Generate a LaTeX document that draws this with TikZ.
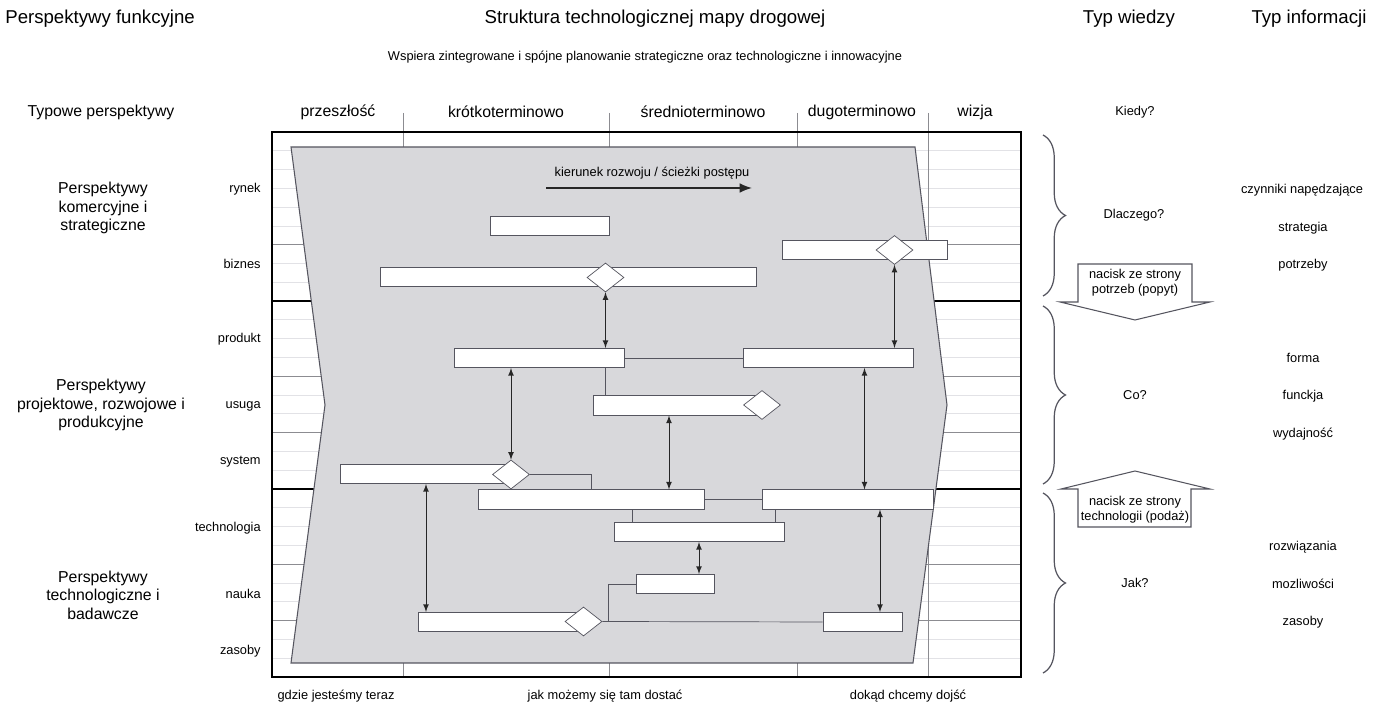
\documentclass[tikz,border=0pt]{standalone}
\usepackage{fontspec}
\setmainfont{Liberation Sans}
\usetikzlibrary{shapes.geometric,decorations.pathreplacing,calc,arrows.meta}

\definecolor{gridc}{RGB}{226,226,230}
\definecolor{sepc}{RGB}{140,140,145}
\definecolor{linec}{RGB}{85,85,95}
\definecolor{polyc}{RGB}{216,216,219}

\newcommand{\pxl}{0.02cm}

\tikzstyle{txt} = [text centered, inner sep=0pt]
\tikzstyle{small} = [txt, font=\fontsize{7.3}{8.6}\selectfont]
\tikzstyle{mid} = [txt, align=center, font=\fontsize{9}{10.6}\selectfont]
\tikzstyle{big} = [txt, font=\fontsize{10.6}{12}\selectfont]
\tikzstyle{bar} = [draw=linec, fill=white, inner sep=0pt, minimum height=0.39cm]
\tikzstyle{dia} = [diamond, draw=linec, fill=white, inner sep=0pt, minimum width=0.74cm, minimum height=0.58cm]

\begin{document}
\begin{tikzpicture}[x=0.02cm, y=-0.02cm,
>=latex,
dbl/.style={<->, draw=black!85, line width=0.5pt},
]
\useasboundingbox (0,0) rectangle (1384,715);

% Headings
\node[big, anchor=west] (hfun) at (5,19) {Perspektywy funkcyjne};
\node[big] (hmap) at (655,19) {Struktura technologicznej mapy drogowej};
\node[big] (hknow) at (1129,19) {Typ wiedzy};
\node[big] (hinfo) at (1309,19) {Typ informacji};
\node[small] (sub) at (645,57) {Wspiera zintegrowane i spójne planowanie strategiczne oraz technologiczne i innowacyjne};

\node[mid] (typ) at (101,112) {Typowe perspektywy};
\node[mid] (past) at (338,112) {przeszłość};
\node[mid] (short) at (506,112) {krótkoterminowo};
\node[mid] (medium) at (703,112) {średnioterminowo};
\node[mid] (long) at (862,112) {dugoterminowo};
\node[mid] (vision) at (975,112) {wizja};
\node[small] (when) at (1135,112) {Kiedy?};

% Grid
\foreach \r in {1,...,28} {%
 \draw[gridc, line width=0.5pt] (272,{132+\r*18.79}) -- (1021,{132+\r*18.79});
}
\foreach \r in {6,13,16,23,26} {%
 \draw[sepc, line width=0.5pt] (272,{132+\r*18.79}) -- (1021,{132+\r*18.79});
}
\foreach \x in {403,609,797,928} {%
 \draw[sepc, line width=0.5pt] (\x,113) -- (\x,677);
}
\foreach \r in {9,19} {%
 \draw[black, line width=1pt] (272,{132+\r*18.79}) -- (1021,{132+\r*18.79});
}
\draw[black, line width=1.1pt] (272,132) rectangle (1021,677);

% Roadmap area
\draw[draw=linec, fill=polyc, line width=0.6pt] (291,147) -- (915,147) -- (947,405) -- (913,663) -- (291,663) -- (325,405) -- cycle;

\node[small] (dir) at (652,173) {kierunek rozwoju / ścieżki postępu};
\coordinate (dirS) at (546,188);
\coordinate (dirE) at (752,188);
\draw[-{Latex[length=7pt,width=5.5pt]}, black!85, line width=0.9pt] (dirS) -- (dirE);

% Left labels
\node[mid] (comm) at (103,208) {Perspektywy\\komercyjne i\\strategiczne};
\node[mid] (proj) at (101,405) {Perspektywy\\projektowe, rozwojowe i\\produkcyjne};
\node[mid] (tech) at (103,595) {Perspektywy\\technologiczne i\\badawcze};

\node[small, anchor=east] (l1) at (261,189) {rynek};
\node[small, anchor=east] (l2) at (261,264) {biznes};
\node[small, anchor=east] (l3) at (261,339) {produkt};
\node[small, anchor=east] (l4) at (261,406) {usuga};
\node[small, anchor=east] (l5) at (261,462) {system};
\node[small, anchor=east] (l6) at (261,528) {technologia};
\node[small, anchor=east] (l7) at (261,594) {nauka};
\node[small, anchor=east] (l8) at (261,651) {zasoby};

% Bars
\node[bar, minimum width=119*\pxl] (B1) at (549.5,226) {};
\node[bar, minimum width=376*\pxl] (B2) at (568,277) {};
\node[bar, minimum width=165*\pxl] (B3) at (864.5,250) {};
\node[bar, minimum width=170*\pxl] (B4) at (539,358) {};
\node[bar, minimum width=170*\pxl] (B5) at (828,358) {};
\node[bar, minimum width=167*\pxl] (B6) at (676.5,405.5) {};
\node[bar, minimum width=172*\pxl] (B7) at (426,474) {};
\node[bar, minimum width=226*\pxl] (B8) at (591,499.5) {};
\node[bar, minimum width=171*\pxl] (B9) at (847.5,499.5) {};
\node[bar, minimum width=170*\pxl] (B10) at (699,532) {};
\node[bar, minimum width=78*\pxl] (B11) at (675,584) {};
\node[bar, minimum width=166*\pxl] (B12) at (501,622) {};
\node[bar, minimum width=79*\pxl] (B13) at (862.5,622) {};

% Diamonds
\node[dia] (D1) at (605.5,277.5) {};
\node[dia] (D2) at (894.5,250) {};
\node[dia] (D3) at (762,405) {};
\node[dia] (D4) at (511,474.5) {};
\node[dia] (D5) at (583.5,621.5) {};

% Links
\draw[dbl] (D1.south) -- (D1.south |- B4.north);
\draw[dbl] (D2.south) -- (D2.south |- B5.north);
\draw[linec] (B4.east) -- (B5.west);
\draw[linec] (B4.south -| D1) -- (B6.north -| D1);
\draw[dbl] (D4.north |- B4.south) -- (D4.north);
\draw[linec] (D4.east) -| (B8.north);
\draw[linec] (B8.east) -- (B9.west);
\draw[dbl] ($(B6.south)+(-7.5,0)$) -- ($(B8.north)+(78,0)$);
\draw[dbl] (B5.south -| B3) -- (B9.north -| B3);
\draw[dbl] (B7.south) -- (B7.south |- B12.north);
\draw[linec] ($(B10.north)+(-67,0)$) -- ($(B8.south)+(41,0)$);
\draw[linec] ($(B9.south)+(-72.5,0)$) -- ($(B10.north)+(76,0)$);
\draw[dbl] (B10.south) -- (B10.south |- B11.north);
\draw[linec] (D5.east) -- (B13.west);
\draw[linec] ($(D5.east)+(6,0)$) |- (B11.west);
\draw[dbl] ($(B9.south)+(32.5,0)$) -- ($(B13.north)+(17.5,0)$);

% Bottom labels
\node[small] (now) at (336,696) {gdzie jesteśmy teraz};
\node[small] (how) at (605,696) {jak możemy się tam dostać};
\node[small] (goal) at (908,696) {dokąd chcemy dojść};

% Braces
\coordinate (br1a) at (1043,135);
\coordinate (br1b) at (1043,296);
\coordinate (br2a) at (1043,306);
\coordinate (br2b) at (1043,484);
\coordinate (br3a) at (1043,493);
\coordinate (br3b) at (1043,673);
\draw[linec, line width=0.7pt, decorate, decoration={brace, amplitude=0.45cm}] (br1a) -- (br1b);
\draw[linec, line width=0.7pt, decorate, decoration={brace, amplitude=0.45cm}] (br2a) -- (br2b);
\draw[linec, line width=0.7pt, decorate, decoration={brace, amplitude=0.45cm}] (br3a) -- (br3b);
\node[small] (why) at (1134,215) {Dlaczego?};
\node[small] (what) at (1135,395) {Co?};
\node[small] (howq) at (1135,583) {Jak?};

% Push arrows
\draw[draw=linec, fill=white, line width=0.6pt] (1078,264) -- (1192,264) -- (1192,302) -- (1210,302) -- (1135,320) -- (1060,302) -- (1078,302) -- cycle;
\node[small, align=center] (pull) at (1135,283) {nacisk ze strony\\potrzeb (popyt)};
\draw[draw=linec, fill=white, line width=0.6pt] (1078,527) -- (1191,527) -- (1191,489) -- (1210,489) -- (1135,471) -- (1061,489) -- (1078,489) -- cycle;
\node[small, align=center] (push) at (1135,510) {nacisk ze strony\\technologii (podaż)};

% Information types
\node[small] (i1) at (1302,190) {czynniki napędzające};
\node[small] (i2) at (1303,228) {strategia};
\node[small] (i3) at (1303,265) {potrzeby};
\node[small] (i4) at (1303,358) {forma};
\node[small] (i5) at (1303,396) {funckja};
\node[small] (i6) at (1303,434) {wydajność};
\node[small] (i7) at (1303,547) {rozwiązania};
\node[small] (i8) at (1303,584) {mozliwości};
\node[small] (i9) at (1303,622) {zasoby};

\end{tikzpicture}
\end{document}
